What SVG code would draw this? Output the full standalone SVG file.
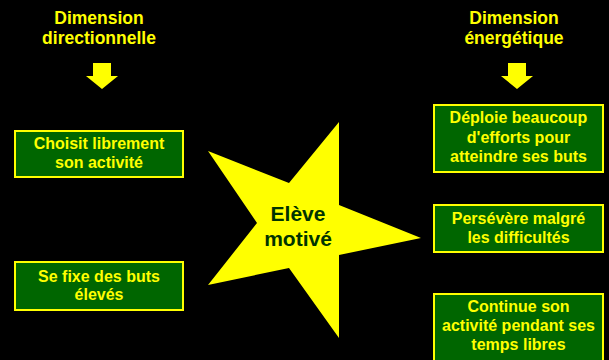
<svg xmlns="http://www.w3.org/2000/svg" width="609" height="360" viewBox="0 0 609 360">
<style>
.title{font-family:"Liberation Sans",Arial,sans-serif;font-weight:bold;font-size:17.5px;fill:#FFFF00;text-anchor:middle}
.box{fill:#006600;stroke:#FFFF00;stroke-width:2}
.bt{font-family:"Liberation Sans",Arial,sans-serif;font-weight:bold;font-size:16px;fill:#FFFF00;text-anchor:middle}
.arrow{fill:#FFFF00}
.star{fill:#FFFF00}
.st{font-family:"Liberation Sans",Arial,sans-serif;font-weight:bold;font-size:21px;fill:#003300;text-anchor:middle}
</style>
<rect x="0" y="0" width="609" height="360" fill="#000000"/>
<g id="title-left">
<text class="title" x="99" y="24">Dimension</text>
<text class="title" x="99" y="44">directionnelle</text>
</g>
<g id="title-right">
<text class="title" x="514" y="24">Dimension</text>
<text class="title" x="514" y="44">énergétique</text>
</g>
<g id="connectors">
<polygon class="arrow" points="93,63 111,63 111,76 118,76 102,89 86,76 93,76"/>
<polygon class="arrow" points="508,63 526,63 526,76 533,76 517,89 501,76 508,76"/>
</g>
<g id="node-choisit">
<rect class="box" x="15" y="131" width="168" height="46"/>
<text class="bt" x="99" y="149">Choisit librement</text>
<text class="bt" x="99" y="168">son activité</text>
</g>
<g id="node-fixe">
<rect class="box" x="15" y="262" width="168" height="48"/>
<text class="bt" x="99" y="282">Se fixe des buts</text>
<text class="bt" x="99" y="300">élevés</text>
</g>
<g id="node-star">
<polygon class="star" points="339,122 339,205 421,238 339,255 339,338 289,268 208,285 257,223 208,151 289,183"/>
<text class="st" x="298" y="221">Elève</text>
<text class="st" x="298" y="246">motivé</text>
</g>
<g id="node-deploie">
<rect class="box" x="434" y="105" width="169" height="67"/>
<text class="bt" x="518.5" y="123">Déploie beaucoup</text>
<text class="bt" x="518.5" y="143">d'efforts pour</text>
<text class="bt" x="518.5" y="162">atteindre ses buts</text>
</g>
<g id="node-persevere">
<rect class="box" x="434" y="205" width="169" height="47"/>
<text class="bt" x="518.5" y="224">Persévère malgré</text>
<text class="bt" x="518.5" y="243">les difficultés</text>
</g>
<g id="node-continue">
<rect class="box" x="434" y="294" width="169" height="70"/>
<text class="bt" x="518.5" y="312">Continue son</text>
<text class="bt" x="518.5" y="331">activité pendant ses</text>
<text class="bt" x="518.5" y="350">temps libres</text>
</g>
</svg>
